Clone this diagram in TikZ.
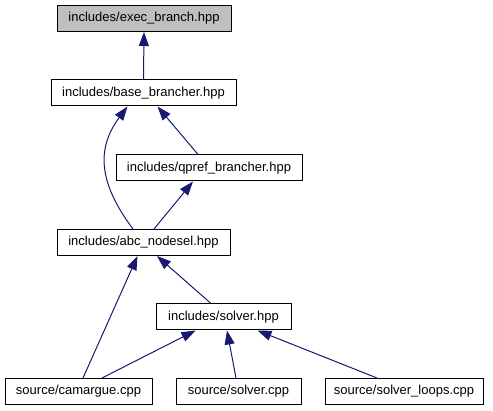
\documentclass[tikz,border=0pt]{standalone}
\usepackage{fontspec}
\setmainfont{Liberation Sans}
\usetikzlibrary{arrows.meta}
\definecolor{edgecol}{HTML}{191970}
\definecolor{curfill}{HTML}{BFBFBF}
\begin{document}
\begin{tikzpicture}[x=1pt,y=-1pt,
  box/.style={draw=black,line width=1pt,inner sep=0pt,minimum height=26pt,font=\fontsize{13}{15}\selectfont},
  edge/.style={draw=edgecol,line width=1pt,-{Triangle[length=14pt,width=10pt,fill=edgecol]},shorten >=0pt}]
\useasboundingbox (0,0) rectangle (493,411);
\node[box,fill=curfill,minimum width=174pt] (exec) at (144,18.5) {includes/exec\_branch.hpp};
\node[box,minimum width=185pt] (base) at (143.5,93) {includes/base\_brancher.hpp};
\node[box,minimum width=186pt] (qpref) at (209,168) {includes/qpref\_brancher.hpp};
\node[box,minimum width=173pt] (abc) at (143.5,242.5) {includes/abc\_nodesel.hpp};
\node[box,minimum width=135pt] (solverh) at (223.5,317) {includes/solver.hpp};
\node[box,minimum width=147pt] (camargue) at (78.5,391.5) {source/camargue.cpp};
\node[box,minimum width=125pt] (solvercpp) at (238.5,391.5) {source/solver.cpp};
\node[box,minimum width=158pt] (loops) at (404,391.5) {source/solver\_loops.cpp};
\draw[edge] (base.north) -- (exec.south);
\draw[edge] ([xshift=-10.5pt]abc.north) .. controls (100,185) and (95,150) .. ([xshift=-16pt]base.south);
\draw[edge] ([xshift=-11pt]qpref.north) -- ([xshift=14pt]base.south);
\draw[edge] ([xshift=10.5pt]abc.north) -- ([xshift=-16pt]qpref.south);
\draw[edge] ([xshift=4.5pt]camargue.north) -- ([xshift=-6pt]abc.south);
\draw[edge] ([xshift=-12.5pt]solverh.north) -- ([xshift=13.5pt]abc.south);
\draw[edge] ([xshift=23.5pt]camargue.north) -- ([xshift=-28pt]solverh.south);
\draw[edge] ([xshift=-2.5pt]solvercpp.north) -- ([xshift=3.5pt]solverh.south);
\draw[edge] ([xshift=-27pt]loops.north) -- ([xshift=34pt]solverh.south);
\end{tikzpicture}
\end{document}
